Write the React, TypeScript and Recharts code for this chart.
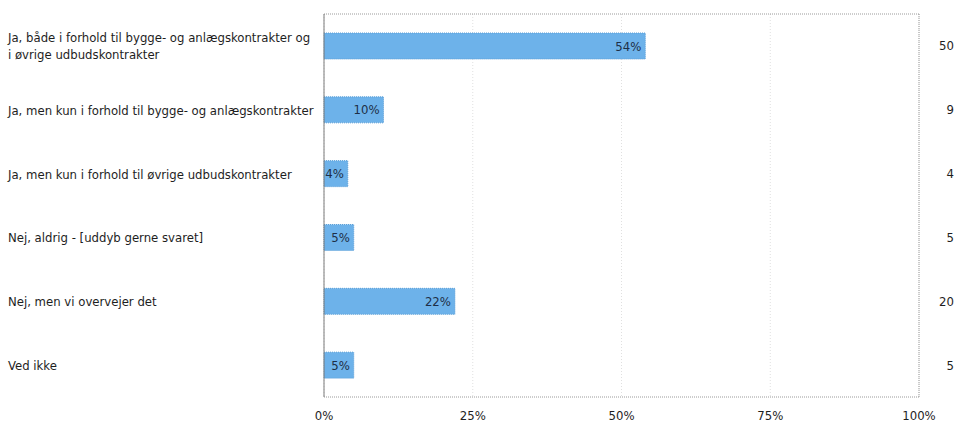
import React from 'react';
import { BarChart, Bar, XAxis, YAxis, CartesianGrid, LabelList } from 'recharts';

const categories = [
  'Ja, både i forhold til bygge- og anlægskontrakter og i øvrige udbudskontrakter',
  'Ja, men kun i forhold til bygge- og anlægskontrakter',
  'Ja, men kun i forhold til øvrige udbudskontrakter',
  'Nej, aldrig - [uddyb gerne svaret]',
  'Nej, men vi overvejer det',
  'Ved ikke',
];
const percents = [54, 10, 4, 5, 22, 5];
const counts = [50, 9, 4, 5, 20, 5];
const xTicks = [0, 25, 50, 75, 100];

const FONT = '"DejaVu Sans Condensed", "Liberation Sans Narrow", "Liberation Sans", sans-serif';
const FS = 13;

const data = categories.map((name, i) => ({ name, pct: percents[i], count: counts[i] }));

// simple word wrap, the long first answer goes on two lines
const wrap = (text: string, max: number) => {
  const lines: string[] = [];
  let cur = '';
  text.split(' ').forEach((w) => {
    const next = cur ? cur + ' ' + w : w;
    if (next.length > max && cur) {
      lines.push(cur);
      cur = w;
    } else {
      cur = next;
    }
  });
  if (cur) lines.push(cur);
  return lines;
};

const LeftTick = (props: any) => {
  const { y, payload } = props;
  const lines = wrap(payload.value, 52);
  const lh = 17;
  const start = y - ((lines.length - 1) * lh) / 2;
  return (
    <text x={8} y={start} textAnchor="start" dominantBaseline="central" fontSize={FS} fill="#1e1e1e" fontFamily={FONT}>
      {lines.map((l, i) => (
        <tspan key={i} x={8} y={start + i * lh}>
          {l}
        </tspan>
      ))}
    </text>
  );
};

const RightTick = (props: any) => {
  const { y, index } = props;
  return (
    <text x={954} y={y} textAnchor="end" dominantBaseline="central" fontSize={FS} fill="#1e1e1e" fontFamily={FONT}>
      {counts[index]}
    </text>
  );
};

export default function App() {
  return (
    <div style={{ position: 'absolute', left: 0, top: 0, background: '#fff' }}>
      <BarChart
        width={955}
        height={424}
        data={data}
        layout="vertical"
        margin={{ top: 14, right: 0, bottom: 0, left: 0 }}
        barCategoryGap={19}
      >
        <CartesianGrid horizontal={false} stroke="#e0e0e0" strokeDasharray="1 2" />
        {/* dotted frame line along the top of the plot */}
        <CartesianGrid
          vertical={false}
          horizontalCoordinatesGenerator={({ offset }: any) => [offset.top]}
          stroke="#9a9a9a"
          strokeDasharray="1 1"
        />
        <XAxis
          type="number"
          domain={[0, 100]}
          ticks={xTicks}
          tickFormatter={(v) => `${v}%`}
          axisLine={{ stroke: '#9a9a9a', strokeDasharray: '1 1' }}
          tickLine={false}
          tickMargin={8}
          height={27}
          tick={{ fontSize: FS, fill: '#1e1e1e', fontFamily: FONT }}
        />
        <YAxis
          type="category"
          dataKey="name"
          width={324}
          axisLine={{ stroke: '#7a7a7a' }}
          tickLine={false}
          tick={<LeftTick />}
          interval={0}
        />
        <YAxis
          yAxisId="right"
          orientation="right"
          type="category"
          dataKey="name"
          width={36}
          axisLine={{ stroke: '#9a9a9a', strokeDasharray: '1 1' }}
          tickLine={false}
          tick={<RightTick />}
          interval={0}
        />
        <Bar dataKey="pct" fill="#6db2ea" stroke="#5c9fd6" strokeDasharray="1 1" isAnimationActive={false}>
          <LabelList
            dataKey="pct"
            position="insideRight"
            offset={4}
            formatter={(v: any) => `${v}%`}
            style={{ fontSize: FS, fill: '#1d2f47', fontFamily: FONT }}
          />
        </Bar>
      </BarChart>
    </div>
  );
}
